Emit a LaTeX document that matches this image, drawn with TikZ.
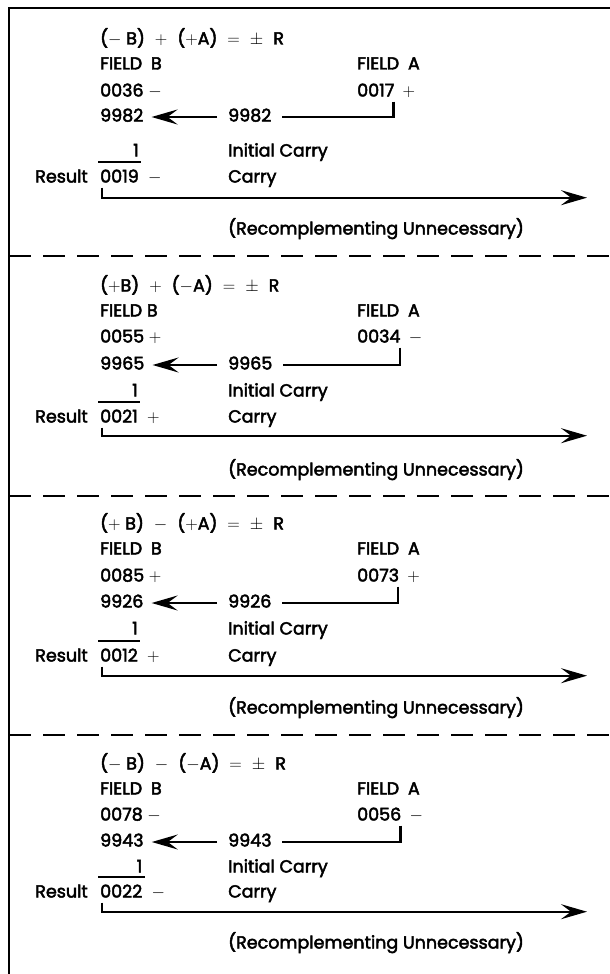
\documentclass[tikz,border=0pt]{standalone}
\usepackage{fontspec}
\setmainfont{Poppins}[FakeBold=2.6]
\usepackage{tikz}
\usetikzlibrary{
  positioning,
  arrows.meta
}
\tikzset{
  >={Stealth[length=26pt,width=15pt,inset=10pt]},
  node distance=26pt,
  every node/.style={font=\fontsize{17.5}{20}\selectfont, inner sep=2pt, text height=12pt, text depth=3pt},
  rule/.style={line width=2.2pt},
  pass/.style={rule, ->, shorten >=6pt, shorten <=9pt},
  feed/.style={rule, shorten >=8pt},
  divider/.style={line width=1.6pt, dash pattern=on 22pt off 12pt},
  frame/.style={line width=2.8pt}
}

\begin{document}
\begin{tikzpicture}[x=1pt, y=-1pt]
    \useasboundingbox (0,0) rectangle (610,974);
    \draw[frame] (9,974) |- (610,8);
    \coordinate (colM) at (226,0);
    \coordinate (colA) at (355,0);
    \coordinate (colE) at (587,0);

    % (-B) + (+A)
    \node[anchor=west] (eq1) at (98,40) {($-$ B)\hspace{10pt}$+$\hspace{10pt}($+$A)\hspace{10pt}$=$\hspace{10pt}$\pm$\hspace{10pt}R};
    \node[below=25pt of eq1.west, anchor=west] (fb1) {FIELD\enspace B};
    \node[anchor=west] (fa1) at (fb1.west -| colA) {FIELD\enspace A};
    \node[below=27pt of fb1.west, anchor=west] (b1) {0036 $-$};
    \node[anchor=west] (a1) at (b1.west -| colA) {0017};
    \node[right=4pt of a1] (sa1) {$+$};
    \node[below=25pt of b1.west, anchor=west] (cb1) {9982};
    \node[anchor=west] (ca1) at (cb1.west -| colM) {9982};
    \node[below=61pt of cb1.west, anchor=west] (r1) {0019};
    \node[above=26pt of r1.east, anchor=east] (one1) {1};
    \node[anchor=west] (ic1) at (one1.west -| colM) {Initial Carry};
    \node[left=8pt of r1] (lr1) {Result};
    \node[right=5pt of r1] (sr1) {$-$};
    \node[anchor=west] (cy1) at (r1.west -| colM) {Carry};
    \node[below=52pt of cy1.west, anchor=west] (rc1) {(Recomplementing Unnecessary)};
    \coordinate[below=10pt of r1.south west] (k1);
    \coordinate (e1) at (k1 -| colE);
    \draw[pass] (ca1) -- (cb1);
    \draw[feed] ([xshift=-3pt]a1.south east) |- (ca1);
    \draw[rule] ([yshift=6pt]r1.north west) -- ([yshift=6pt]r1.north east);
    \draw[rule, ->] ([xshift=4pt]r1.south west) |- (e1);
    \draw[divider] (9,256) -- (610,256);

    % (+B) + (-A)
    \node[anchor=west] (eq2) at (98,287) {($+$B)\hspace{10pt}$+$\hspace{10pt}($-$A)\hspace{10pt}$=$\hspace{10pt}$\pm$\hspace{10pt}R};
    \node[below=25pt of eq2.west, anchor=west] (fb2) {FIELD B};
    \node[anchor=west] (fa2) at (fb2.west -| colA) {FIELD\enspace A};
    \node[below=of fb2.west, anchor=west] (b2) {0055 $+$};
    \node[anchor=west] (a2) at (b2.west -| colA) {0034};
    \node[right=4pt of a2] (sa2) {$-$};
    \node[below=27pt of b2.west, anchor=west] (cb2) {9965};
    \node[anchor=west] (ca2) at (cb2.west -| colM) {9965};
    \node[below=53pt of cb2.west, anchor=west] (r2) {0021};
    \node[above=of r2.east, anchor=east] (one2) {1};
    \node[anchor=west] (ic2) at (one2.west -| colM) {Initial Carry};
    \node[left=8pt of r2] (lr2) {Result};
    \node[right=5pt of r2] (sr2) {$+$};
    \node[anchor=west] (cy2) at (r2.west -| colM) {Carry};
    \node[below=53pt of cy2.west, anchor=west] (rc2) {(Recomplementing Unnecessary)};
    \coordinate[below=8pt of r2.south west] (k2);
    \coordinate (e2) at (k2 -| colE);
    \draw[pass] (ca2) -- (cb2);
    \draw[feed] ([xshift=-3pt]a2.south east) |- (ca2);
    \draw[rule] ([yshift=6pt]r2.north west) -- ([yshift=6pt]r2.north east);
    \draw[rule, ->] ([xshift=4pt]r2.south west) |- (e2);
    \draw[divider] (9,496) -- (610,496);

    % (+B) - (+A)
    \node[anchor=west] (eq3) at (98,525) {($+$ B)\hspace{10pt}$-$\hspace{10pt}($+$A)\hspace{10pt}$=$\hspace{10pt}$\pm$\hspace{10pt}R};
    \node[below=25pt of eq3.west, anchor=west] (fb3) {FIELD\enspace B};
    \node[anchor=west] (fa3) at (fb3.west -| colA) {FIELD\enspace A};
    \node[below=27pt of fb3.west, anchor=west] (b3) {0085 $+$};
    \node[anchor=west] (a3) at (b3.west -| colA) {0073};
    \node[right=4pt of a3] (sa3) {$+$};
    \node[below=of b3.west, anchor=west] (cb3) {9926};
    \node[anchor=west] (ca3) at (cb3.west -| colM) {9926};
    \node[below=54pt of cb3.west, anchor=west] (r3) {0012};
    \node[above=27pt of r3.east, anchor=east] (one3) {1};
    \node[anchor=west] (ic3) at (one3.west -| colM) {Initial Carry};
    \node[left=8pt of r3] (lr3) {Result};
    \node[right=5pt of r3] (sr3) {$+$};
    \node[anchor=west] (cy3) at (r3.west -| colM) {Carry};
    \node[below=52pt of cy3.west, anchor=west] (rc3) {(Recomplementing Unnecessary)};
    \coordinate[below=9pt of r3.south west] (k3);
    \coordinate (e3) at (k3 -| colE);
    \draw[pass] (ca3) -- (cb3);
    \draw[feed] ([xshift=-3pt]a3.south east) |- (ca3);
    \draw[rule] ([yshift=6pt]r3.north west) -- ([yshift=6pt]r3.north east);
    \draw[rule, ->] ([xshift=4pt]r3.south west) |- (e3);
    \draw[divider] (9,735) -- (610,735);

    % (-B) - (-A)
    \node[anchor=west] (eq4) at (98,765) {($-$ B)\hspace{10pt}$-$\hspace{10pt}($-$A)\hspace{10pt}$=$\hspace{10pt}$\pm$\hspace{10pt}R};
    \node[below=25pt of eq4.west, anchor=west] (fb4) {FIELD\enspace B};
    \node[anchor=west] (fa4) at (fb4.west -| colA) {FIELD\enspace A};
    \node[below=of fb4.west, anchor=west] (b4) {0078 $-$};
    \node[anchor=west] (a4) at (b4.west -| colA) {0056};
    \node[right=4pt of a4] (sa4) {$-$};
    \node[below=of b4.west, anchor=west] (cb4) {9943};
    \node[anchor=west] (ca4) at (cb4.west -| colM) {9943};
    \node[below=51pt of cb4.west, anchor=west] (r4) {0022};
    \node[above=25pt of r4.east, anchor=east] (one4) {1};
    \node[anchor=west] (ic4) at (one4.west -| colM) {Initial Carry};
    \node[left=8pt of r4] (lr4) {Result};
    \node[right=5pt of r4] (sr4) {$-$};
    \node[anchor=west] (cy4) at (r4.west -| colM) {Carry};
    \node[below=51pt of cy4.west, anchor=west] (rc4) {(Recomplementing Unnecessary)};
    \coordinate[below=9pt of r4.south west] (k4);
    \coordinate (e4) at (k4 -| colE);
    \draw[pass] (ca4) -- (cb4);
    \draw[feed] ([xshift=-3pt]a4.south east) |- (ca4);
    \draw[rule] ([yshift=6pt]r4.north west) -- ([yshift=6pt]r4.north east);
    \draw[rule, ->] ([xshift=4pt]r4.south west) |- (e4);
  \end{tikzpicture}
\end{document}
